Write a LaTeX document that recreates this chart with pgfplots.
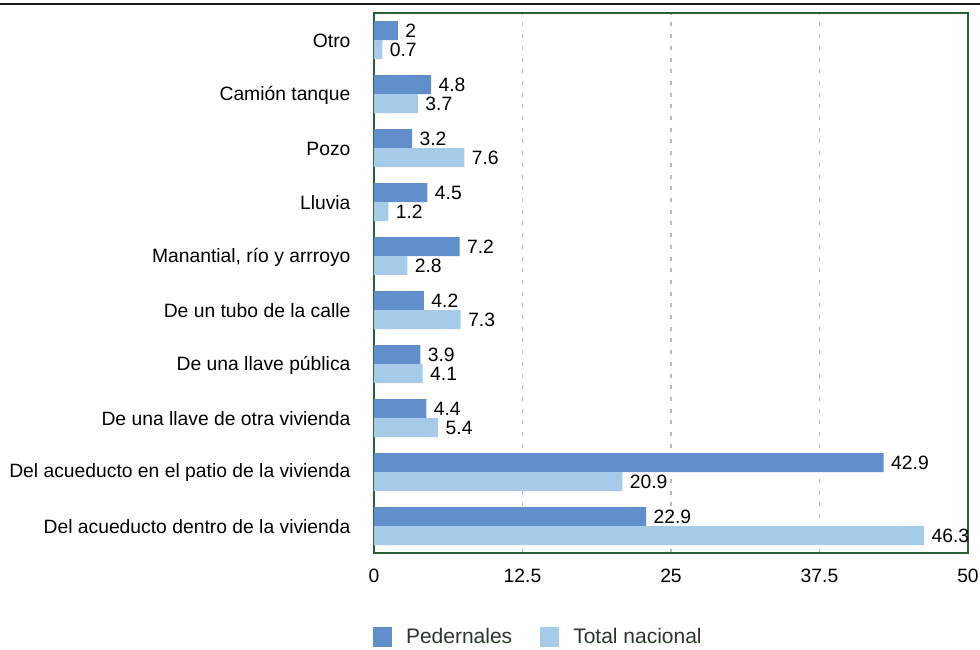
\documentclass[border=0pt]{standalone}
\usepackage{fontspec}
\setmainfont{Liberation Sans}
\usepackage{pgfplots}
\pgfplotsset{compat=1.18}
\definecolor{ped}{RGB}{96,143,204}
\definecolor{tot}{RGB}{166,203,232}
\definecolor{framec}{RGB}{40,95,55}
\definecolor{legc}{RGB}{40,55,40}
\definecolor{gridc}{RGB}{185,185,185}
\pgfplotsset{sqlegend/.style={legend image code/.code={\fill[##1,draw=none] (0pt,-10pt) rectangle (19pt,10pt); \path (31pt,0pt);}}}
\begin{document}
\begin{tikzpicture}[x=1pt,y=1pt]
\useasboundingbox (0,0) rectangle (980,649);
\draw[line width=2pt, black!90] (0,644.5) -- (980,644.5);
\begin{axis}[
  at={(374pt,96pt)}, anchor=south west,
  width=594pt, height=540pt, scale only axis,
  xbar, bar width=19pt,
  xmin=0, xmax=50, ymin=-0.5, ymax=9.5,
  xtick={0,12.5,25,37.5,50},
  ytick={0,1,2,3,4,5,6,7,8,9},
  yticklabels={Del acueducto dentro de la vivienda,Del acueducto en el patio de la vivienda,De una llave de otra vivienda,De una llave pública,De un tubo de la calle,{Manantial, río y arrroyo},Lluvia,Pozo,Camión tanque,Otro},
  major tick length=0pt,
  xmajorgrids,
  major grid style={gridc, line width=1.8pt, dash pattern=on 4pt off 7.7pt},
  axis line style={framec, line width=2pt},
  tick label style={font=\fontsize{19.3}{22}\selectfont},
  /pgf/number format/assume math mode=true,
  x tick label style={yshift=-12pt},
  y tick label style={xshift=-20pt, yshift=-1pt},
  nodes near coords,
  every node near coord/.append style={font=\fontsize{19.3}{22}\selectfont, black, xshift=4pt},
  legend columns=2,
  legend style={draw=none, fill=none, at={(-0.002,-0.1556)}, anchor=west, inner sep=0pt,
    font=\fontsize{21}{24}\selectfont, text=legc,
    /tikz/every even column/.append style={column sep=26pt}},
]
\addplot[fill=ped, draw=none, bar shift=9.5pt, sqlegend]
  coordinates {(22.9,0) (42.9,1) (4.4,2) (3.9,3) (4.2,4) (7.2,5) (4.5,6) (3.2,7) (4.8,8) (2,9)};
\addlegendentry{Pedernales}
\addplot[fill=tot, draw=none, bar shift=-9.5pt, sqlegend]
  coordinates {(46.3,0) (20.9,1) (5.4,2) (4.1,3) (7.3,4) (2.8,5) (1.2,6) (7.6,7) (3.7,8) (0.7,9)};
\addlegendentry{Total nacional}
\end{axis}
\end{tikzpicture}
\end{document}
